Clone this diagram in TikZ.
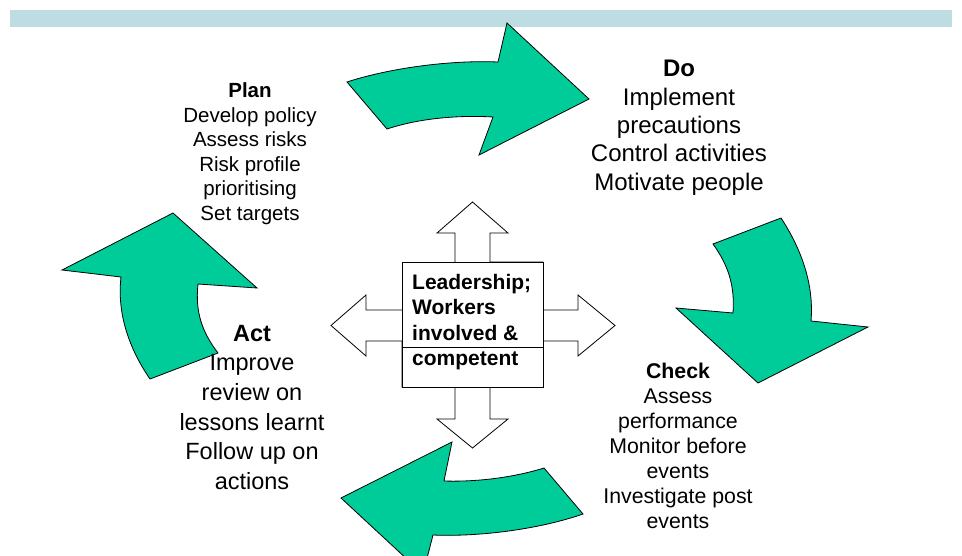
\documentclass[tikz,border=0pt]{standalone}
\usepackage{fontspec}
\setmainfont{Liberation Sans}
\definecolor{pdcagreen}{HTML}{00CC99}
\definecolor{barblue}{RGB}{190,221,226}
\begin{document}
\begin{tikzpicture}[x=1pt,y=-1pt,
  cyclearrow/.style={fill=pdcagreen,draw=black,line width=0.8pt,line join=miter},
  crossshape/.style={fill=white,draw=black,line width=0.8pt},
  lbl/.style={inner sep=0pt,anchor=north,align=center,text=black}]
\useasboundingbox (0,0) rectangle (962,555);
\clip (0,0) rectangle (962,555);
\fill[white] (0,0) rectangle (962,555);
% top bar
\fill[barblue] (10,10) rectangle (952,27);
% top arrow (Plan -> Do)
\draw[cyclearrow] (347,82) -- (387,129) .. controls (420,118) and (460,115) .. (493,117)
  -- (479,155) -- (589,99) -- (507,23) -- (498,62)
  .. controls (450,60) and (390,68) .. cycle;
% right arrow (Do -> Check)
\draw[cyclearrow] (781,218) -- (713,244) .. controls (728,265) and (735,285) .. (733,313)
  -- (676,308) -- (758,383) -- (868,327) -- (811,321)
  .. controls (814,285) and (802,250) .. cycle;
% bottom arrow (Check -> Act)
\draw[cyclearrow] (583,514) -- (544,468) .. controls (512,478) and (475,482) .. (444,481)
  -- (452,442) -- (341,498) -- (423,574) -- (433,535)
  .. controls (480,537) and (540,529) .. cycle;
% left arrow (Act -> Plan)
\draw[cyclearrow] (150,379) -- (218,353) .. controls (202,332) and (195,312) .. (198,284)
  -- (257,288) -- (173,213) -- (62,270) -- (121,277)
  .. controls (117,312) and (128,347) .. cycle;
% central cross
\draw[crossshape] (455,262) -- (455,233) -- (437,233) -- (472.5,202) -- (508,233) -- (490,233) -- (490,262)
  -- (543,262) -- (543,310) -- (578,310) -- (578,295) -- (615,325.5) -- (578,356) -- (578,341) -- (543,341)
  -- (543,387) -- (490,387) -- (490,419) -- (508,419) -- (472.5,448) -- (437,419) -- (455,419) -- (455,387)
  -- (402,387) -- (402,341) -- (366,341) -- (366,356) -- (331,325.5) -- (366,295) -- (366,310) -- (402,310)
  -- cycle;
\node[draw=black,line width=0.8pt,fill=white,minimum width=141pt,minimum height=125pt,inner sep=0pt,anchor=north west] (core) at (402,262) {};
\draw[line width=0.8pt] (core.west |- 0,347) -- (core.east |- 0,347);
\node[inner sep=0pt,anchor=north west,align=left,font=\fontsize{21}{25.5}\selectfont\bfseries] (coretext) at (412,274)
  {Leadership;\\Workers\\involved \&\\competent};
% labels
\node[lbl,font=\fontsize{20.5}{24.5}\selectfont] (plan) at (250,82.5)
  {\textbf{Plan}\\Develop policy\\Assess risks\\Risk profile\\prioritising\\Set targets};
\node[lbl,font=\fontsize{24}{28.4}\selectfont] (do) at (679,60)
  {\textbf{Do}\\Implement\\precautions\\Control activities\\Motivate people};
\node[lbl,font=\fontsize{21.3}{25.1}\selectfont] (check) at (678,362.5)
  {\textbf{Check}\\Assess\\performance\\Monitor before\\events\\Investigate post\\events};
\node[lbl,font=\fontsize{23.5}{29.6}\selectfont] (act) at (252,325)
  {\textbf{Act}\\Improve\\review on\\lessons learnt\\Follow up on\\actions};
\end{tikzpicture}
\end{document}
